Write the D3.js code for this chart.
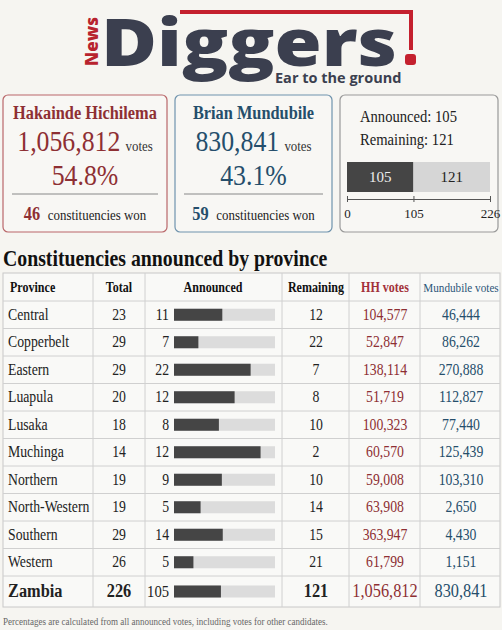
<!DOCTYPE html>
<html><head><meta charset="utf-8">
<script src="https://cdn.jsdelivr.net/npm/d3@7"></script>
<style>body{margin:0;background:#f6f5f1}</style>
</head><body>
<div id="chart"></div>
<script>
const provinces = ['Central','Copperbelt','Eastern','Luapula','Lusaka','Muchinga','Northern','North-Western','Southern','Western'];
const totals = [23,29,29,20,18,14,19,19,29,26];
const announced = [11,7,22,12,8,12,9,5,14,5];
const remaining = [12,22,7,8,10,2,10,14,15,21];
const hhVotes = [104577,52847,138114,51719,100323,60570,59008,63908,363947,61799];
const mbVotes = [46444,86262,270888,112827,77440,125439,103310,2650,4430,1151];
const national = {name:'Zambia', total:226, announced:105, remaining:121, hh:1056812, mb:830841};
const candidates = [
  {name:'Hakainde Hichilema', votes:1056812, pct:'54.8%', won:46, color:'#8e2f33', border:'#b9676a'},
  {name:'Brian Mundubile', votes:830841, pct:'43.1%', won:59, color:'#254e6b', border:'#6f93ad'}
];

const W = 502, H = 630;
const serif = '"Liberation Serif", "DejaVu Serif", serif';
const sans = '"Open Sans", "DejaVu Sans", sans-serif';
const fmt = d3.format(',');
const SX = 0.86; // narrow the serif like the condensed face in the reference
const svg = d3.select('#chart').append('svg').attr('width', W).attr('height', H)
  .style('font-family', serif);
svg.append('rect').attr('width', W).attr('height', H).attr('fill', '#f6f5f1');

// condensed text helper
function ctext(parent, x, y, anchor) {
  return parent.append('g').attr('transform', `translate(${x},${y}) scale(${SX},1)`)
    .append('text').attr('text-anchor', anchor || 'middle');
}

// logo
const logo = svg.append('g');
logo.append('path').attr('d', 'M180,12 H411 V50').attr('fill','none').attr('stroke','#c4202e').attr('stroke-width',4);
logo.append('rect').attr('x',405).attr('y',54).attr('width',11).attr('height',11).attr('rx',3).attr('fill','#c4202e');
logo.append('text').attr('transform','translate(98,66) rotate(-90)').attr('font-family',sans).attr('font-weight',800)
  .attr('font-size',17).attr('fill','#b8232e').text('News');
logo.append('text').attr('x',101).attr('y',66).attr('font-family',sans).attr('font-weight',800)
  .attr('font-size',66).attr('fill','#3b3f4f').attr('textLength',296).attr('lengthAdjust','spacingAndGlyphs').text('Diggers');
logo.append('text').attr('x',275).attr('y',83).attr('font-family',sans).attr('font-weight',700)
  .attr('font-size',14.5).attr('fill','#3b3f4f').text('Ear to the ground');

// candidate boxes
const boxes = [{x:3,w:164},{x:175,w:157}];
candidates.forEach((c,i)=>{
  const b = boxes[i], cx = b.x + b.w/2;
  const g = svg.append('g');
  g.append('rect').attr('x',b.x).attr('y',95).attr('width',b.w).attr('height',137).attr('rx',5)
    .attr('fill','#f8f7f4').attr('stroke',c.border).attr('stroke-width',1.2);
  ctext(g,cx,119).attr('font-size',19).attr('font-weight',700).attr('fill',c.color).text(c.name);
  const t = ctext(g,cx,151).attr('fill',c.color);
  t.append('tspan').attr('font-size',30).text(fmt(c.votes));
  t.append('tspan').attr('font-size',15).attr('dx',6).attr('fill','#333').text('votes');
  ctext(g,cx,185).attr('font-size',30).attr('fill',c.color).text(c.pct);
  g.append('line').attr('x1',b.x+9).attr('x2',b.x+b.w-9).attr('y1',194).attr('y2',194).attr('stroke','#888');
  const t2 = ctext(g,cx,220);
  t2.append('tspan').attr('font-size',19).attr('font-weight',700).attr('fill',c.color).text(c.won);
  t2.append('tspan').attr('font-size',15).attr('dx',9).attr('fill','#222').text('constituencies won');
});

// national progress box
const pb = svg.append('g');
pb.append('rect').attr('x',340).attr('y',95).attr('width',158).attr('height',137).attr('rx',5)
  .attr('fill','#f8f7f4').attr('stroke','#999').attr('stroke-width',1.2);
ctext(pb,360,122,'start').attr('font-size',17).attr('fill','#222').text('Announced:  ' + national.announced);
ctext(pb,360,145,'start').attr('font-size',17).attr('fill','#222').text('Remaining:  ' + national.remaining);
const nx = d3.scaleLinear().domain([0, national.total]).range([347, 490]);
pb.append('rect').attr('x',nx(0)).attr('y',162).attr('width',nx(national.announced)-nx(0)).attr('height',30).attr('fill','#454545');
pb.append('rect').attr('x',nx(national.announced)).attr('y',162).attr('width',nx(national.total)-nx(national.announced)).attr('height',30).attr('fill','#d6d6d6');
pb.append('text').attr('x',(nx(0)+nx(national.announced))/2).attr('y',182).attr('text-anchor','middle').attr('font-size',15).attr('fill','#eee').text(national.announced);
pb.append('text').attr('x',(nx(national.announced)+nx(national.total))/2).attr('y',182).attr('text-anchor','middle').attr('font-size',15).attr('fill','#222').text(national.remaining);
const ax = pb.append('g').attr('transform','translate(0,199)')
  .call(d3.axisBottom(nx).tickValues([0, national.announced, national.total]).tickSize(4).tickSizeOuter(0).tickPadding(6));
ax.selectAll('.tick line').attr('y1',-3).attr('y2',3).attr('stroke','#555');
ax.select('.domain').attr('stroke','#555');
ax.selectAll('text').attr('font-family',serif).attr('font-size',13).attr('fill','#222');

// table title
ctext(svg,3,266,'start').attr('font-size',23).attr('font-weight',700).attr('fill','#111')
  .text('Constituencies announced by province');

// table
const cols = [3,93,145,282,349,420,500];
const tTop = 273, headH = 28, rowH = 27.5, lastH = 31;
const rows = provinces.map((p,i)=>({name:p,total:totals[i],announced:announced[i],remaining:remaining[i],hh:hhVotes[i],mb:mbVotes[i],bold:false}));
rows.push({name:national.name,total:national.total,announced:national.announced,remaining:national.remaining,hh:national.hh,mb:national.mb,bold:true});
const yTop = i => tTop + headH + i*rowH;
const bottom = yTop(rows.length-1) + lastH;
const tbl = svg.append('g');
tbl.append('rect').attr('x',cols[0]).attr('y',tTop).attr('width',cols[6]-cols[0]).attr('height',bottom-tTop)
  .attr('fill','#f9f9f7').attr('stroke','#c8c8c8');
rows.forEach((r,i)=>tbl.append('line').attr('x1',cols[0]).attr('x2',cols[6]).attr('y1',yTop(i)).attr('y2',yTop(i)).attr('stroke','#d0d0d0'));
cols.slice(1,6).forEach(x=>tbl.append('line').attr('x1',x).attr('x2',x).attr('y1',tTop).attr('y2',bottom).attr('stroke','#d0d0d0'));

const heads = [['Province',10,'start','#111'],['Total',119,'middle','#111'],['Announced',213,'middle','#111'],
  ['Remaining',316,'middle','#111'],['HH votes',385,'middle','#a3313a'],['Mundubile votes',461,'middle','#2c5679']];
heads.forEach(h=>ctext(tbl,h[1],tTop+19,h[2]).attr('font-size',h[0]==='Mundubile votes'?13:14)
  .attr('font-weight',h[0]==='Mundubile votes'?400:700).attr('fill',h[3]).text(h[0]));

const bx = d3.scaleLinear().domain([0,1]).range([174, 275]);
rows.forEach((r,i)=>{
  const h = r.bold ? lastH : rowH;
  const cy = yTop(i) + h/2 + 5;
  const fs = r.bold ? 19 : 16;
  const g = tbl.append('g').attr('font-size',fs);
  const fwB = r.bold ? 700 : 400;
  ctext(g,8,cy,'start').attr('font-weight',fwB).attr('fill','#222').text(r.name);
  ctext(g,119,cy).attr('font-weight',fwB).attr('fill','#222').text(r.total);
  ctext(g,169,cy,'end').attr('fill','#222').attr('font-size',r.bold?17:16).text(r.announced);
  const by = yTop(i) + h/2 - 6;
  g.append('rect').attr('x',bx(0)).attr('y',by).attr('width',bx(1)-bx(0)).attr('height',12).attr('fill','#dcdcdc');
  g.append('rect').attr('x',bx(0)).attr('y',by).attr('width',bx(r.announced/r.total)-bx(0)).attr('height',12).attr('fill','#454545');
  ctext(g,316,cy).attr('font-weight',fwB).attr('fill','#222').text(r.remaining);
  ctext(g,385,cy).attr('fill','#8e2f33').text(fmt(r.hh));
  ctext(g,461,cy).attr('fill','#254e6b').text(fmt(r.mb));
});

ctext(svg,3,625,'start').attr('font-size',10.5).attr('fill','#666')
  .text('Percentages are calculated from all announced votes, including votes for other candidates.');
</script>
</body></html>
